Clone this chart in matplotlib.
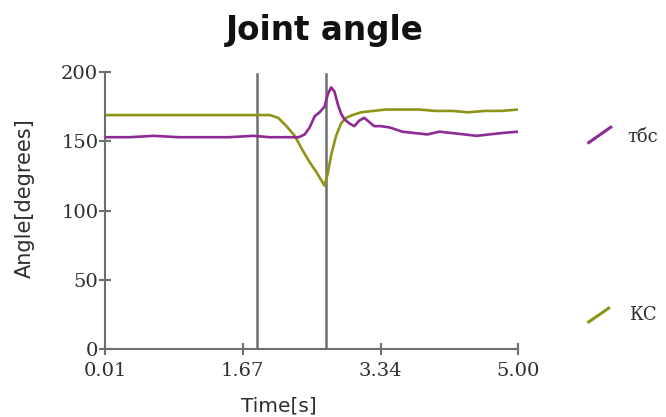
import matplotlib
matplotlib.use("Agg")
import matplotlib.pyplot as plt
from matplotlib.lines import Line2D

# ---- data ----
tbs_t = [0.01, 0.3, 0.6, 0.9, 1.2, 1.5, 1.8, 2.0, 2.2, 2.35, 2.42, 2.48, 2.54, 2.6, 2.66,
         2.70, 2.74, 2.78, 2.82, 2.86, 2.9, 2.96, 3.02, 3.08, 3.14, 3.2, 3.26, 3.34, 3.45,
         3.6, 3.75, 3.9, 4.05, 4.2, 4.35, 4.5, 4.65, 4.8, 5.0]
tbs_v = [153, 153, 154, 153, 153, 153, 154, 153, 153, 153, 155, 160, 168, 171, 175,
         184, 189, 186, 177, 170, 166, 163, 161, 165, 167, 164, 161, 161, 160,
         157, 156, 155, 157, 156, 155, 154, 155, 156, 157]

kc_t = [0.01, 0.5, 1.0, 1.5, 1.84, 2.0, 2.1, 2.2, 2.3, 2.4, 2.48, 2.56, 2.62, 2.66,
        2.70, 2.74, 2.8, 2.86, 2.92, 3.0, 3.1, 3.25, 3.4, 3.6, 3.8, 4.0, 4.2, 4.4,
        4.6, 4.8, 5.0]
kc_v = [169, 169, 169, 169, 169, 169, 167, 161, 154, 143, 135, 128, 122, 118,
        127, 140, 154, 163, 167, 169, 171, 172, 173, 173, 173, 172, 172, 171,
        172, 172, 173]

event_times = [1.84, 2.68]
x_ticks = [0.01, 1.67, 3.34, 5.00]
x_tick_labels = ["0.01", "1.67", "3.34", "5.00"]
y_ticks = [0, 50, 100, 150, 200]
series_names = ["тбс", "КС"]

purple = "#8e2a95"
olive = "#8f9418"
gray = "#6e6e6e"
txt = "#2e2e2e"

fig = plt.figure(figsize=(6.66, 4.17), dpi=100)
ax = fig.add_axes([0.158, 0.163, 0.62, 0.664])

for t in event_times:
    ax.plot([t, t], [0, 199], color=gray, lw=1.8, zorder=1)
ax.plot(tbs_t, tbs_v, color=purple, lw=1.9, zorder=3)
ax.plot(kc_t, kc_v, color=olive, lw=1.9, zorder=2)

ax.set_xlim(0.01, 5.0)
ax.set_ylim(0, 200)
for s in ["top", "right"]:
    ax.spines[s].set_visible(False)
for s in ["left", "bottom"]:
    ax.spines[s].set_color(gray)
    ax.spines[s].set_linewidth(1.5)

serif = ["DejaVu Serif"]
sans = ["DejaVu Sans"]
ax.set_xticks(x_ticks)
ax.set_xticklabels(x_tick_labels, family=serif, fontsize=14, color=txt)
ax.set_yticks(y_ticks)
ax.set_yticklabels([str(v) for v in y_ticks], family=serif, fontsize=14, color=txt)
ax.tick_params(axis="both", direction="inout", length=8, width=1.5, color=gray)
ax.tick_params(axis="x", pad=5)
ax.tick_params(axis="y", pad=1)

ax.set_xlabel("Time[s]", family=sans, fontsize=14.5, color=txt)
ax.xaxis.set_label_coords(0.42, -0.205)
ax.set_ylabel("Angle[degrees]", family=sans, fontsize=15, color=txt)
ax.yaxis.set_label_coords(-0.194, 0.545)
ax.yaxis.label.set_va("center")
ax.xaxis.label.set_va("center")

fig.text(0.487, 0.928, "Joint angle", family=sans, fontsize=23.5, fontweight="bold",
         ha="center", va="center", color="#111111")

# legend (right side)
fig.add_artist(Line2D([0.884, 0.917], [0.658, 0.695], color=purple, lw=2.2,
                      transform=fig.transFigure))
fig.text(0.942, 0.672, series_names[0], family=serif, fontsize=13, va="center",
         color=txt)
fig.add_artist(Line2D([0.884, 0.914], [0.228, 0.261], color=olive, lw=2.2,
                      transform=fig.transFigure))
fig.text(0.944, 0.245, series_names[1], family=serif, fontsize=13, va="center",
         color=txt)

fig.savefig("out.png", dpi=100)
